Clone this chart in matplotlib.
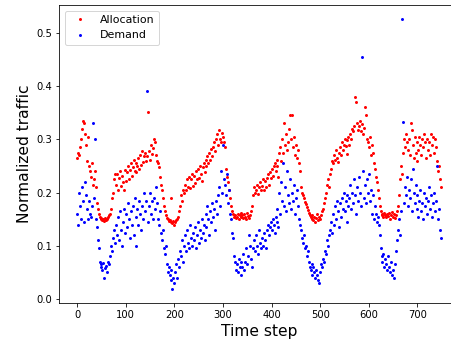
import numpy as np
import matplotlib
matplotlib.use('Agg')
import matplotlib.pyplot as plt

# Readings at every second time step 0,2,...,748
time_step = np.arange(0, 750, 2)

allocation = [
    0.265, 0.275, 0.270, 0.285, 0.300, 0.320, 0.335, 0.330, 0.310, 0.290,
    0.260, 0.305, 0.250, 0.240, 0.230, 0.255, 0.215, 0.225, 0.240, 0.210,
    0.180, 0.170, 0.160, 0.155, 0.152, 0.150, 0.148, 0.150, 0.146, 0.152,
    0.148, 0.150, 0.155, 0.158, 0.160, 0.170, 0.190, 0.200, 0.225, 0.235,
    0.215, 0.235, 0.205, 0.228, 0.240, 0.212, 0.232, 0.220, 0.205, 0.242,
    0.222, 0.238, 0.250, 0.225, 0.242, 0.255, 0.232, 0.248, 0.262, 0.240,
    0.255, 0.238, 0.250, 0.265, 0.245, 0.270, 0.252, 0.278, 0.258, 0.268,
    0.275, 0.260, 0.268, 0.352, 0.278, 0.262, 0.290, 0.272, 0.284, 0.300,
    0.295, 0.270, 0.260, 0.255, 0.248, 0.230, 0.215, 0.205, 0.190, 0.175,
    0.165, 0.158, 0.152, 0.150, 0.146, 0.148, 0.190, 0.144, 0.142, 0.146,
    0.140, 0.145, 0.148, 0.150, 0.155, 0.165, 0.175, 0.195, 0.185, 0.205,
    0.200, 0.215, 0.205, 0.225, 0.210, 0.230, 0.208, 0.225, 0.235, 0.212,
    0.232, 0.218, 0.240, 0.225, 0.245, 0.228, 0.250, 0.235, 0.222, 0.248,
    0.255, 0.238, 0.262, 0.250, 0.268, 0.255, 0.275, 0.262, 0.282, 0.268,
    0.285, 0.295, 0.278, 0.300, 0.310, 0.290, 0.318, 0.300, 0.295, 0.312,
    0.305, 0.295, 0.285, 0.245, 0.230, 0.220, 0.205, 0.190, 0.175, 0.165,
    0.160, 0.155, 0.158, 0.152, 0.155, 0.160, 0.150, 0.158, 0.162, 0.155,
    0.158, 0.152, 0.160, 0.155, 0.150, 0.162, 0.156, 0.152, 0.158, 0.165,
    0.175, 0.195, 0.210, 0.200, 0.205, 0.215, 0.198, 0.210, 0.220, 0.205,
    0.212, 0.225, 0.205, 0.222, 0.210, 0.228, 0.235, 0.215, 0.238, 0.228,
    0.245, 0.232, 0.250, 0.255, 0.240, 0.262, 0.250, 0.230, 0.275, 0.285,
    0.260, 0.300, 0.275, 0.330, 0.290, 0.310, 0.280, 0.295, 0.320, 0.345,
    0.300, 0.345, 0.285, 0.305, 0.270, 0.290, 0.265, 0.280, 0.255, 0.240,
    0.210, 0.200, 0.195, 0.190, 0.182, 0.178, 0.172, 0.168, 0.162, 0.158,
    0.155, 0.150, 0.158, 0.148, 0.155, 0.145, 0.152, 0.160, 0.148, 0.155,
    0.150, 0.158, 0.165, 0.170, 0.180, 0.190, 0.200, 0.215, 0.225, 0.210,
    0.235, 0.245, 0.260, 0.255, 0.270, 0.262, 0.280, 0.265, 0.258, 0.275,
    0.285, 0.270, 0.295, 0.280, 0.290, 0.300, 0.288, 0.272, 0.298, 0.305,
    0.290, 0.310, 0.300, 0.320, 0.315, 0.325, 0.380, 0.370, 0.330, 0.318,
    0.325, 0.335, 0.315, 0.328, 0.310, 0.322, 0.360, 0.345, 0.300, 0.295,
    0.285, 0.305, 0.270, 0.290, 0.275, 0.255, 0.245, 0.230, 0.220, 0.205,
    0.190, 0.175, 0.165, 0.158, 0.160, 0.155, 0.162, 0.158, 0.154, 0.160,
    0.156, 0.162, 0.150, 0.158, 0.163, 0.155, 0.160, 0.152, 0.158, 0.165,
    0.175, 0.195, 0.225, 0.250, 0.235, 0.275, 0.300, 0.285, 0.310, 0.295,
    0.280, 0.300, 0.270, 0.330, 0.318, 0.290, 0.265, 0.305, 0.275, 0.260,
    0.295, 0.280, 0.305, 0.290, 0.270, 0.300, 0.285, 0.310, 0.295, 0.265,
    0.300, 0.280, 0.295, 0.270, 0.310, 0.290, 0.305, 0.275, 0.300, 0.285,
    0.260, 0.240, 0.250, 0.225, 0.210,
]

demand = [
    0.160, 0.140, 0.200, 0.175, 0.150, 0.210, 0.185, 0.145, 0.220, 0.195,
    0.170, 0.150, 0.185, 0.160, 0.155, 0.175, 0.330, 0.190, 0.300, 0.150,
    0.135, 0.110, 0.095, 0.070, 0.065, 0.060, 0.055, 0.068, 0.040, 0.058,
    0.062, 0.050, 0.070, 0.065, 0.080, 0.100, 0.090, 0.115, 0.130, 0.105,
    0.140, 0.120, 0.155, 0.110, 0.165, 0.130, 0.100, 0.145, 0.170, 0.125,
    0.160, 0.135, 0.180, 0.150, 0.115, 0.165, 0.140, 0.175, 0.120, 0.190,
    0.100, 0.155, 0.170, 0.140, 0.185, 0.160, 0.130, 0.175, 0.150, 0.200,
    0.165, 0.185, 0.390, 0.145, 0.175, 0.200, 0.160, 0.185, 0.150, 0.190,
    0.170, 0.210, 0.180, 0.150, 0.140, 0.165, 0.125, 0.110, 0.130, 0.095,
    0.085, 0.100, 0.065, 0.050, 0.060, 0.045, 0.035, 0.055, 0.018, 0.040,
    0.030, 0.050, 0.065, 0.040, 0.075, 0.060, 0.090, 0.080, 0.110, 0.070,
    0.100, 0.120, 0.090, 0.130, 0.105, 0.095, 0.140, 0.115, 0.100, 0.125,
    0.110, 0.135, 0.095, 0.120, 0.145, 0.105, 0.130, 0.115, 0.150, 0.125,
    0.140, 0.110, 0.160, 0.135, 0.175, 0.150, 0.120, 0.165, 0.145, 0.180,
    0.155, 0.170, 0.130, 0.185, 0.160, 0.195, 0.210, 0.175, 0.240, 0.200,
    0.290, 0.225, 0.215, 0.195, 0.235, 0.180, 0.205, 0.160, 0.150, 0.125,
    0.115, 0.080, 0.070, 0.055, 0.065, 0.050, 0.075, 0.060, 0.045, 0.070,
    0.060, 0.085, 0.055, 0.070, 0.095, 0.065, 0.080, 0.120, 0.100, 0.075,
    0.060, 0.095, 0.110, 0.090, 0.120, 0.100, 0.085, 0.130, 0.105, 0.095,
    0.115, 0.100, 0.125, 0.110, 0.095, 0.130, 0.140, 0.120, 0.135, 0.145,
    0.130, 0.150, 0.140, 0.125, 0.155, 0.145, 0.170, 0.135, 0.200, 0.160,
    0.220, 0.185, 0.255, 0.175, 0.210, 0.165, 0.240, 0.195, 0.180, 0.225,
    0.170, 0.200, 0.185, 0.215, 0.160, 0.190, 0.205, 0.175, 0.150, 0.140,
    0.130, 0.115, 0.105, 0.120, 0.095, 0.100, 0.080, 0.090, 0.070, 0.060,
    0.055, 0.065, 0.045, 0.060, 0.050, 0.040, 0.055, 0.045, 0.035, 0.030,
    0.050, 0.065, 0.060, 0.075, 0.070, 0.090, 0.085, 0.110, 0.100, 0.120,
    0.130, 0.145, 0.125, 0.160, 0.140, 0.175, 0.150, 0.185, 0.165, 0.135,
    0.180, 0.155, 0.190, 0.170, 0.200, 0.165, 0.185, 0.145, 0.195, 0.175,
    0.190, 0.215, 0.170, 0.200, 0.180, 0.225, 0.195, 0.160, 0.210, 0.185,
    0.230, 0.200, 0.175, 0.455, 0.240, 0.190, 0.215, 0.180, 0.225, 0.200,
    0.235, 0.185, 0.205, 0.160, 0.195, 0.150, 0.175, 0.160, 0.145, 0.155,
    0.140, 0.120, 0.095, 0.080, 0.070, 0.085, 0.060, 0.075, 0.065, 0.055,
    0.080, 0.060, 0.050, 0.070, 0.045, 0.055, 0.040, 0.065, 0.090, 0.110,
    0.130, 0.150, 0.120, 0.165, 0.527, 0.333, 0.180, 0.210, 0.195, 0.230,
    0.175, 0.205, 0.190, 0.225, 0.165, 0.245, 0.200, 0.180, 0.215, 0.170,
    0.195, 0.155, 0.185, 0.205, 0.165, 0.180, 0.150, 0.200, 0.175, 0.190,
    0.160, 0.185, 0.210, 0.170, 0.195, 0.155, 0.180, 0.200, 0.165, 0.185,
    0.250, 0.150, 0.170, 0.130, 0.115,
]

fig = plt.figure(figsize=(451/72.0, 347/72.0), dpi=72, facecolor='w')
axs = fig.add_axes([59/451.0, 44/347.0, 400/451.0, 298/347.0])
axs.plot(time_step, allocation, 'o', color='r', ms=3, mew=0, label='Allocation')
axs.plot(time_step, demand, 'o', color='b', ms=3, mew=0, label='Demand')
axs.set_xlabel('Time step', fontsize=15.5)
axs.set_ylabel('Normalized traffic', fontsize=15.5)
axs.legend(loc='upper left', fontsize=11)
plt.savefig('out.png', dpi=72)
